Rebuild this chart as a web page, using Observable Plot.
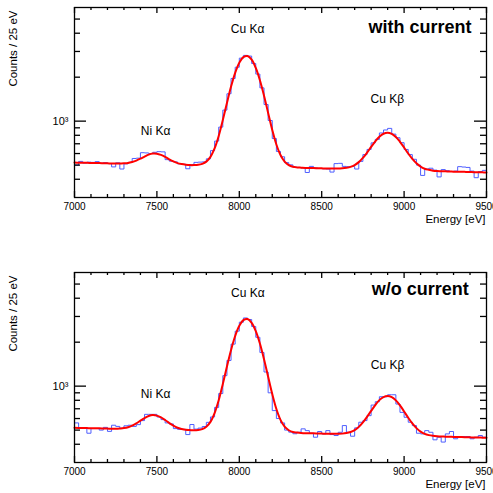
<!DOCTYPE html>
<html><head><meta charset="utf-8">
<script src="https://cdn.jsdelivr.net/npm/d3@7"></script>
<script src="https://cdn.jsdelivr.net/npm/@observablehq/plot@0.6"></script>
<style>
body{margin:0;background:#fff;}
#chart{width:493px;height:493px;overflow:hidden;background:#fff;}
#chart svg{display:block;}
</style></head><body><div id="chart"></div>
<script>
// Energy bins (25 eV) and fit sampling energies
const energyMin = 7000, energyMax = 9500;
const binLow = d3.range(7000, 9500, 25);
const fitEnergy = d3.range(7000, 9525, 25);

// Panel 1: with current
const histTop = [
500,530,516,524,522,528,515,520,512,486,
518,470,510,522,555,558,608,606,600,612,
618,616,545,532,526,510,507,472,504,522,
524,526,552,628,730,910,1190,1540,1960,2340,
2700,2820,2790,2480,2100,1690,1300,1010,760,620,
570,520,502,485,482,478,445,490,478,474,
472,470,448,512,514,490,488,490,470,530,
590,640,710,750,830,870,892,815,770,712,
640,590,548,500,425,470,476,462,415,466,
458,452,455,488,485,482,455,410,452,460
];
const fitTop = [
520,519,518,518,517,516,516,515,514,513,
512,513,514,517,525,537,553,572,590,600,
599,587,569,548,530,516,508,503,500,500,
502,510,528,569,650,792,1017,1333,1726,2143,
2511,2746,2792,2634,2312,1905,1493,1138,870,692,
586,528,500,487,482,480,478,477,477,476,
475,474,474,474,473,475,479,486,500,524,
560,608,666,726,782,820,833,818,779,722,
660,600,551,514,488,472,464,458,455,454,
453,452,451,450,450,449,448,447,447,446,
445
];

// Panel 2: w/o current
const histBot = [
560,518,518,476,512,512,500,522,490,540,
530,515,535,540,530,545,581,641,641,641,
615,590,560,551,512,506,506,466,546,508,
516,529,565,615,715,890,1180,1500,1940,2380,
2740,2930,2860,2560,2160,1700,1250,900,680,600,
560,500,484,472,483,510,496,476,447,489,
471,496,466,459,483,537,483,454,518,566,
581,628,742,782,846,846,873,873,754,661,
612,566,537,476,471,496,483,429,447,414,
471,489,436,452,452,452,436,447,459,447
];
const fitBot = [
518,517,517,516,515,514,514,513,512,511,
511,513,516,523,537,556,580,604,625,634,
628,611,586,559,536,519,509,502,500,499,
501,508,527,569,654,801,1035,1363,1771,2205,
2587,2831,2878,2715,2380,1958,1530,1161,883,698,
588,528,499,485,481,478,476,475,475,474,
473,472,472,472,472,473,477,485,500,526,
565,616,677,742,802,842,856,840,799,738,
671,608,556,516,488,471,462,457,454,452,
451,450,449,448,448,447,446,445,445,444,
443
];

// Tick values
const majorX = [7000, 7500, 8000, 8500, 9000, 9500];
const minorX = [7100,7200,7300,7400,7600,7700,7800,7900,8100,8200,8300,8400,8600,8700,8800,8900,9100,9200,9300,9400];
const majorY = [1000];
const minorY = [400, 500, 600, 700, 800, 900, 2000, 3000, 4000, 5000];
const yDomain = [300, 6000];

// Texts
const peakNames = ["Ni Kα", "Cu Kα", "Cu Kβ"];
const panelTitles = ["with current", "w/o current"];
const yTitle = "Counts / 25 eV";
const xTitle = "Energy [eV]";

const FONT = "'Liberation Sans', Arial, Helvetica, sans-serif";
const W = 493, ML = 74, MR = 7;

function panel({hist, fit, title, labelPos, titlePos, height, marginTop, marginBottom}) {
  const histData = hist.map((v, i) => ({x: binLow[i], y: v}));
  histData.push({x: energyMax, y: hist[hist.length - 1]});
  const fitData = fit.map((v, i) => ({x: fitEnergy[i], y: v}));
  const labels = peakNames.map((t, i) => ({text: t, x: labelPos[i][0], y: labelPos[i][1]}));
  const ph = height - marginTop - marginBottom; // plot height in px
  const pw = W - ML - MR;                      // plot width in px
  // inward ticks drawn as rules inset from the frame
  const tk = {stroke: "#000", strokeWidth: 1.3};
  const tickBottom = (vals, len) => Plot.ruleX(vals, {x: d => d, insetTop: ph - len, ...tk});
  const tickTop = (vals, len) => Plot.ruleX(vals, {x: d => d, insetBottom: ph - len, ...tk});
  const tickLeft = (vals, len) => Plot.ruleY(vals, {y: d => d, insetRight: pw - len, ...tk});
  const tickRight = (vals, len) => Plot.ruleY(vals, {y: d => d, insetLeft: pw - len, ...tk});
  return Plot.plot({
    width: W, height, marginLeft: ML, marginRight: MR, marginTop, marginBottom,
    style: {fontFamily: FONT, background: "#fff", color: "#000"},
    x: {domain: [energyMin, energyMax], label: null},
    y: {type: "log", domain: yDomain, label: null},
    marks: [
      Plot.line(histData, {x: "x", y: "y", curve: "step-after", stroke: "#4f5fff", strokeWidth: 1}),
      Plot.line(fitData, {x: "x", y: "y", curve: "catmull-rom", stroke: "#ff0000", strokeWidth: 2}),
      tickBottom(majorX, 6), tickBottom(minorX, 3),
      tickTop(majorX, 6), tickTop(minorX, 3),
      tickLeft(majorY, 12), tickLeft(minorY, 6),
      tickRight(majorY, 12), tickRight(minorY, 6),
      Plot.frame({stroke: "#000", strokeWidth: 1.3}),
      Plot.axisX(majorX, {anchor: "bottom", tickSize: 0, tickPadding: 5, fontSize: 10, tickFormat: d => String(d), label: null}),
      Plot.axisY(majorY, {anchor: "left", tickSize: 0, tickPadding: 6, fontSize: 11, tickFormat: () => "10³", label: null}),
      Plot.text(labels, {x: "x", y: "y", text: "text", fontSize: 12, fill: "#000", lineAnchor: "middle"}),
      Plot.text([title], {x: titlePos[0], y: titlePos[1], text: d => d, textAnchor: "end", fontSize: 18, fontWeight: "bold", fill: "#000", lineAnchor: "middle"}),
      Plot.text([yTitle], {frameAnchor: "top-left", text: d => d, rotate: -90, textAnchor: "end", lineAnchor: "middle", dx: -61, dy: 3, fontSize: 11.5, fill: "#000"}),
      Plot.text([xTitle], {frameAnchor: "bottom-right", text: d => d, textAnchor: "end", lineAnchor: "middle", dx: -1, dy: 22, fontSize: 11.5, fill: "#000"})
    ]
  });
}

const chart = document.getElementById("chart");
chart.append(panel({
  hist: histTop, fit: fitTop, title: panelTitles[0],
  labelPos: [[7492, 851], [8050, 4240], [8898, 1406]],
  titlePos: [9409, 4411],
  height: 246, marginTop: 7, marginBottom: 49
}));
chart.append(panel({
  hist: histBot, fit: fitBot, title: panelTitles[1],
  labelPos: [[7492, 876], [8052, 4307], [8900, 1388]],
  titlePos: [9392, 4644],
  height: 247, marginTop: 26, marginBottom: 31
}));
</script>
</body></html>
